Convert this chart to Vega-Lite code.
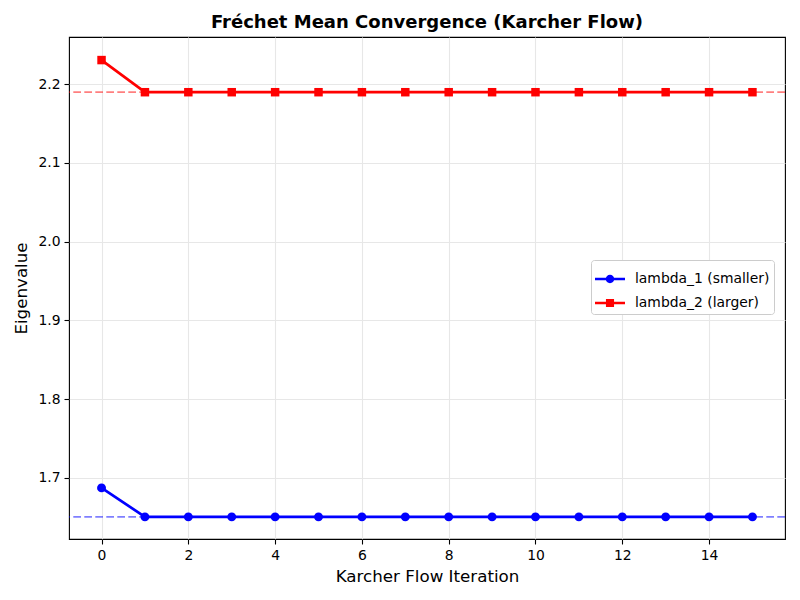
{
  "$schema": "https://vega.github.io/schema/vega-lite/v6.json",
  "autosize": {"type": "none"},
  "padding": {"left": 69, "top": 37, "right": 15, "bottom": 62},
  "width": 716,
  "height": 502,
  "background": "white",
  "title": {
    "text": "Fréchet Mean Convergence (Karcher Flow)",
    "font": "DejaVu Sans",
    "fontSize": 18,
    "fontWeight": "bold",
    "color": "black",
    "anchor": "middle",
    "offset": 5
  },
  "config": {
    "font": "DejaVu Sans",
    "view": {"stroke": "black", "strokeWidth": 1.1},
    "axis": {
      "labelFont": "DejaVu Sans",
      "labelFontSize": 13.9,
      "labelColor": "black",
      "titleFont": "DejaVu Sans",
      "titleFontSize": 16.7,
      "titleFontWeight": "normal",
      "titleColor": "black",
      "tickColor": "black",
      "tickSize": 5,
      "tickWidth": 1.1,
      "domain": false,
      "grid": true,
      "gridColor": "#e7e7e7",
      "gridWidth": 1.1
    }
  },
  "datasets": {
    "series": [
      {"iter": 0, "series": "lambda_1 (smaller)", "value": 1.6873},
      {"iter": 1, "series": "lambda_1 (smaller)", "value": 1.6505},
      {"iter": 2, "series": "lambda_1 (smaller)", "value": 1.6505},
      {"iter": 3, "series": "lambda_1 (smaller)", "value": 1.6505},
      {"iter": 4, "series": "lambda_1 (smaller)", "value": 1.6505},
      {"iter": 5, "series": "lambda_1 (smaller)", "value": 1.6505},
      {"iter": 6, "series": "lambda_1 (smaller)", "value": 1.6505},
      {"iter": 7, "series": "lambda_1 (smaller)", "value": 1.6505},
      {"iter": 8, "series": "lambda_1 (smaller)", "value": 1.6505},
      {"iter": 9, "series": "lambda_1 (smaller)", "value": 1.6505},
      {"iter": 10, "series": "lambda_1 (smaller)", "value": 1.6505},
      {"iter": 11, "series": "lambda_1 (smaller)", "value": 1.6505},
      {"iter": 12, "series": "lambda_1 (smaller)", "value": 1.6505},
      {"iter": 13, "series": "lambda_1 (smaller)", "value": 1.6505},
      {"iter": 14, "series": "lambda_1 (smaller)", "value": 1.6505},
      {"iter": 15, "series": "lambda_1 (smaller)", "value": 1.6505},
      {"iter": 0, "series": "lambda_2 (larger)", "value": 2.2305},
      {"iter": 1, "series": "lambda_2 (larger)", "value": 2.1897},
      {"iter": 2, "series": "lambda_2 (larger)", "value": 2.1897},
      {"iter": 3, "series": "lambda_2 (larger)", "value": 2.1897},
      {"iter": 4, "series": "lambda_2 (larger)", "value": 2.1897},
      {"iter": 5, "series": "lambda_2 (larger)", "value": 2.1897},
      {"iter": 6, "series": "lambda_2 (larger)", "value": 2.1897},
      {"iter": 7, "series": "lambda_2 (larger)", "value": 2.1897},
      {"iter": 8, "series": "lambda_2 (larger)", "value": 2.1897},
      {"iter": 9, "series": "lambda_2 (larger)", "value": 2.1897},
      {"iter": 10, "series": "lambda_2 (larger)", "value": 2.1897},
      {"iter": 11, "series": "lambda_2 (larger)", "value": 2.1897},
      {"iter": 12, "series": "lambda_2 (larger)", "value": 2.1897},
      {"iter": 13, "series": "lambda_2 (larger)", "value": 2.1897},
      {"iter": 14, "series": "lambda_2 (larger)", "value": 2.1897},
      {"iter": 15, "series": "lambda_2 (larger)", "value": 2.1897}
    ],
    "refs": [
      {"series": "lambda_1 (smaller)", "ref": 1.6505},
      {"series": "lambda_2 (larger)", "ref": 2.1897}
    ]
  },
  "layer": [
    {
      "data": {"name": "refs"},
      "mark": {"type": "rule", "strokeWidth": 1.8, "strokeDash": [7.7, 3.3], "opacity": 0.5},
      "encoding": {
        "y": {"field": "ref", "type": "quantitative"},
        "color": {"field": "series", "type": "nominal"}
      }
    },
    {
      "data": {"name": "series"},
      "mark": {"type": "line", "strokeWidth": 2.7},
      "encoding": {
        "x": {
          "field": "iter",
          "type": "quantitative",
          "title": "Karcher Flow Iteration",
          "scale": {"domain": [-0.75, 15.75], "nice": false, "zero": false},
          "axis": {"values": [0, 2, 4, 6, 8, 10, 12, 14], "labelPadding": 4, "titlePadding": 7, "labelFlush": false}
        },
        "y": {
          "field": "value",
          "type": "quantitative",
          "title": "Eigenvalue",
          "scale": {"domain": [1.6224, 2.2598], "nice": false, "zero": false},
          "axis": {"values": [1.7, 1.8, 1.9, 2.0, 2.1, 2.2], "format": ".1f", "labelPadding": 4, "titlePadding": 7, "labelFlush": false}
        },
        "color": {
          "field": "series",
          "type": "nominal",
          "scale": {"domain": ["lambda_1 (smaller)", "lambda_2 (larger)"], "range": ["#0000ff", "#ff0000"]},
          "legend": {
            "title": null,
            "orient": "none",
            "legendX": 522,
            "legendY": 223,
            "fillColor": "white",
            "strokeColor": "#cccccc",
            "cornerRadius": 3,
            "padding": 4,
            "symbolSize": 900,
            "symbolStrokeWidth": 0,
            "labelFont": "DejaVu Sans",
            "labelFontSize": 13.9,
            "labelColor": "black",
            "labelOffset": 10,
            "rowPadding": 2,
            "encode": {
              "symbols": {
                "update": {
                  "shape": {"signal": "datum.value === 'lambda_1 (smaller)' ? 'M-1,-0.09H1V0.09H-1Z M0.28,0A0.28,0.28,0,1,1,-0.28,0A0.28,0.28,0,1,1,0.28,0Z' : 'M-1,-0.09H1V0.09H-1Z M-0.27,-0.27H0.27V0.27H-0.27Z'"},
                  "size": {"value": 900},
                  "fill": {"signal": "datum.value === 'lambda_1 (smaller)' ? '#0000ff' : '#ff0000'"},
                  "fillOpacity": {"value": 1},
                  "opacity": {"value": 1},
                  "strokeWidth": {"value": 0}
                }
              }
            }
          }
        }
      }
    },
    {
      "data": {"name": "series"},
      "transform": [{"filter": "datum.series === 'lambda_1 (smaller)'"}],
      "mark": {"type": "point", "shape": "circle", "filled": true, "opacity": 1, "size": 80},
      "encoding": {
        "x": {"field": "iter", "type": "quantitative"},
        "y": {"field": "value", "type": "quantitative"},
        "color": {"field": "series", "type": "nominal"}
      }
    },
    {
      "data": {"name": "series"},
      "transform": [{"filter": "datum.series === 'lambda_2 (larger)'"}],
      "mark": {"type": "point", "shape": "square", "filled": true, "opacity": 1, "size": 72},
      "encoding": {
        "x": {"field": "iter", "type": "quantitative"},
        "y": {"field": "value", "type": "quantitative"},
        "color": {"field": "series", "type": "nominal"}
      }
    }
  ]
}
